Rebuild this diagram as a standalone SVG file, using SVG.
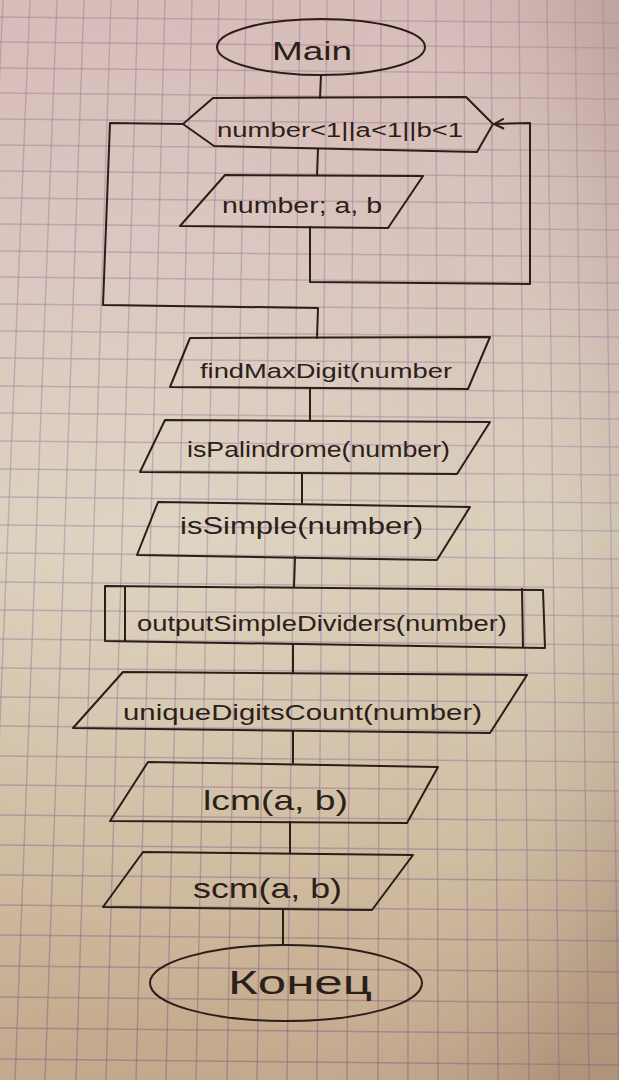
<svg xmlns="http://www.w3.org/2000/svg" width="619" height="1080" viewBox="0 0 619 1080">
  <defs>
    <linearGradient id="paper" x1="0" y1="0" x2="0" y2="1">
      <stop offset="0" stop-color="#d7bcb8"/>
      <stop offset="0.25" stop-color="#d9c4bc"/>
      <stop offset="0.5" stop-color="#dacfbb"/>
      <stop offset="0.8" stop-color="#cfbb9f"/>
      <stop offset="1" stop-color="#c2a78a"/>
    </linearGradient>
    <radialGradient id="shade" cx="0.25" cy="0.45" r="0.85">
      <stop offset="0" stop-color="#ffffff" stop-opacity="0.12"/>
      <stop offset="0.6" stop-color="#ffffff" stop-opacity="0"/>
      <stop offset="1" stop-color="#5a3a30" stop-opacity="0.18"/>
    </radialGradient>
    <linearGradient id="gridInk" gradientUnits="userSpaceOnUse" x1="0" y1="0" x2="0" y2="1080">
      <stop offset="0" stop-color="#a9889e"/>
      <stop offset="0.5" stop-color="#a891a8"/>
      <stop offset="1" stop-color="#8f6a80"/>
    </linearGradient>
    <marker id="arrowOpen" viewBox="0 0 12 12" refX="11" refY="6" markerWidth="12" markerHeight="12" markerUnits="userSpaceOnUse" orient="auto">
      <path d="M1,1 L11,6 L1,11" fill="none" stroke="#2a1f17" stroke-width="2"/>
    </marker>
  </defs>
  <style>
    .ink { fill: none; stroke: #2a1f17; stroke-width: 2; stroke-linejoin: round; stroke-linecap: round; }
    .label { font-family: "Liberation Sans", "DejaVu Sans", sans-serif; fill: #2b2018; text-anchor: start; }
    .grid line { stroke: url(#gridInk); stroke-width: 1.4; stroke-opacity: 0.6; }
  </style>

  <!-- squared paper -->
  <rect x="0" y="0" width="619" height="1080" fill="url(#paper)"/>
  <rect x="0" y="0" width="619" height="1080" fill="url(#shade)"/>
  <g class="grid">
    <!-- vertical rules, fanning slightly towards the bottom -->
    <line x1="3" y1="0" x2="-45" y2="1080"/>
    <line x1="30" y1="0" x2="-15" y2="1080"/>
    <line x1="57" y1="0" x2="15" y2="1080"/>
    <line x1="84" y1="0" x2="45" y2="1080"/>
    <line x1="111" y1="0" x2="76" y2="1080"/>
    <line x1="138" y1="0" x2="106" y2="1080"/>
    <line x1="165" y1="0" x2="136" y2="1080"/>
    <line x1="192" y1="0" x2="166" y2="1080"/>
    <line x1="219" y1="0" x2="196" y2="1080"/>
    <line x1="246" y1="0" x2="227" y2="1080"/>
    <line x1="273" y1="0" x2="257" y2="1080"/>
    <line x1="300" y1="0" x2="287" y2="1080"/>
    <line x1="327" y1="0" x2="317" y2="1080"/>
    <line x1="354" y1="0" x2="347" y2="1080"/>
    <line x1="381" y1="0" x2="378" y2="1080"/>
    <line x1="408" y1="0" x2="408" y2="1080"/>
    <line x1="436" y1="0" x2="438" y2="1080"/>
    <line x1="464" y1="0" x2="468" y2="1080"/>
    <line x1="491" y1="0" x2="498" y2="1080"/>
    <line x1="519" y1="0" x2="529" y2="1080"/>
    <line x1="547" y1="0" x2="559" y2="1080"/>
    <line x1="575" y1="0" x2="589" y2="1080"/>
    <line x1="603" y1="0" x2="619" y2="1080"/>
    <!-- horizontal rules -->
    <line x1="0" y1="17" x2="619" y2="23"/>
    <line x1="0" y1="42" x2="619" y2="48"/>
    <line x1="0" y1="68" x2="619" y2="74"/>
    <line x1="0" y1="93" x2="619" y2="99"/>
    <line x1="0" y1="119" x2="619" y2="125"/>
    <line x1="0" y1="145" x2="619" y2="151"/>
    <line x1="0" y1="171" x2="619" y2="177"/>
    <line x1="0" y1="198" x2="619" y2="204"/>
    <line x1="0" y1="224" x2="619" y2="230"/>
    <line x1="0" y1="251" x2="619" y2="257"/>
    <line x1="0" y1="277" x2="619" y2="283"/>
    <line x1="0" y1="304" x2="619" y2="310"/>
    <line x1="0" y1="331" x2="619" y2="337"/>
    <line x1="0" y1="358" x2="619" y2="364"/>
    <line x1="0" y1="386" x2="619" y2="392"/>
    <line x1="0" y1="413" x2="619" y2="419"/>
    <line x1="0" y1="441" x2="619" y2="447"/>
    <line x1="0" y1="469" x2="619" y2="475"/>
    <line x1="0" y1="497" x2="619" y2="503"/>
    <line x1="0" y1="525" x2="619" y2="531"/>
    <line x1="0" y1="553" x2="619" y2="559"/>
    <line x1="0" y1="582" x2="619" y2="588"/>
    <line x1="0" y1="610" x2="619" y2="616"/>
    <line x1="0" y1="639" x2="619" y2="645"/>
    <line x1="0" y1="668" x2="619" y2="674"/>
    <line x1="0" y1="697" x2="619" y2="703"/>
    <line x1="0" y1="726" x2="619" y2="732"/>
    <line x1="0" y1="756" x2="619" y2="762"/>
    <line x1="0" y1="785" x2="619" y2="791"/>
    <line x1="0" y1="815" x2="619" y2="821"/>
    <line x1="0" y1="845" x2="619" y2="851"/>
    <line x1="0" y1="875" x2="619" y2="881"/>
    <line x1="0" y1="905" x2="619" y2="911"/>
    <line x1="0" y1="935" x2="619" y2="941"/>
    <line x1="0" y1="966" x2="619" y2="972"/>
    <line x1="0" y1="997" x2="619" y2="1003"/>
    <line x1="0" y1="1028" x2="619" y2="1034"/>
    <line x1="0" y1="1059" x2="619" y2="1065"/>
  </g>

  <!-- connectors -->
  <g id="connectors" class="ink">
    <line x1="321" y1="75" x2="320" y2="98"/>
    <line x1="318" y1="149" x2="317" y2="175"/>
    <!-- loop: exit on the left back into the main flow -->
    <polyline points="183,124 110,123 103,305 318,308 317,338"/>
    <!-- loop: return from the input back to the condition -->
    <polyline points="310,227 310,282 530,284 530,123 494,124" marker-end="url(#arrowOpen)"/>
    <line x1="310" y1="388" x2="310" y2="421"/>
    <line x1="302" y1="473" x2="302" y2="503"/>
    <line x1="295" y1="557" x2="294" y2="587"/>
    <line x1="293" y1="644" x2="293" y2="673"/>
    <line x1="293" y1="731" x2="293" y2="763"/>
    <line x1="290" y1="822" x2="290" y2="853"/>
    <line x1="283" y1="909" x2="283" y2="945"/>
  </g>

  <g id="node-main">
    <ellipse class="ink" cx="321" cy="47" rx="104" ry="28"/>
    <text class="label" x="272" y="60" font-size="25" textLength="80" lengthAdjust="spacingAndGlyphs">Main</text>
  </g>

  <g id="node-loop">
    <polygon class="ink" points="183,124 213,98 466,97 493,124 477,152 214,146"/>
    <text class="label" x="217" y="137" font-size="20" textLength="246" lengthAdjust="spacingAndGlyphs">number&lt;1||a&lt;1||b&lt;1</text>
  </g>

  <g id="node-input">
    <polygon class="ink" points="225,175 423,176 388,228 180,226"/>
    <text class="label" x="222" y="213" font-size="22" textLength="160" lengthAdjust="spacingAndGlyphs">number; a, b</text>
  </g>

  <g id="node-findMaxDigit">
    <polygon class="ink" points="190,338 490,337 468,389 170,387"/>
    <text class="label" x="200" y="378" font-size="20" textLength="252" lengthAdjust="spacingAndGlyphs">findMaxDigit(number</text>
  </g>

  <g id="node-isPalindrome">
    <polygon class="ink" points="165,420 490,422 457,474 140,472"/>
    <text class="label" x="187" y="457" font-size="22" textLength="263" lengthAdjust="spacingAndGlyphs">isPalindrome(number)</text>
  </g>

  <g id="node-isSimple">
    <polygon class="ink" points="158,502 470,507 437,560 137,555"/>
    <text class="label" x="180" y="534" font-size="24" textLength="243" lengthAdjust="spacingAndGlyphs">isSimple(number)</text>
  </g>

  <g id="node-outputSimpleDividers">
    <polygon class="ink" points="105,586 543,590 545,648 105,641"/>
    <line class="ink" x1="125" y1="587" x2="125" y2="641"/>
    <line class="ink" x1="522" y1="589" x2="523" y2="647"/>
    <text class="label" x="137" y="631" font-size="22" textLength="370" lengthAdjust="spacingAndGlyphs">outputSimpleDividers(number)</text>
  </g>

  <g id="node-uniqueDigitsCount">
    <polygon class="ink" points="123,672 527,675 490,733 73,728"/>
    <text class="label" x="123" y="720" font-size="22" textLength="359" lengthAdjust="spacingAndGlyphs">uniqueDigitsCount(number)</text>
  </g>

  <g id="node-lcm">
    <polygon class="ink" points="148,762 438,767 407,823 110,821"/>
    <text class="label" x="203" y="810" font-size="28" textLength="145" lengthAdjust="spacingAndGlyphs">lcm(a, b)</text>
  </g>

  <g id="node-scm">
    <polygon class="ink" points="143,852 413,855 372,910 103,907"/>
    <text class="label" x="193" y="898" font-size="28" textLength="149" lengthAdjust="spacingAndGlyphs">scm(a, b)</text>
  </g>

  <g id="node-end">
    <ellipse class="ink" cx="286" cy="983" rx="136" ry="38"/>
    <text class="label" x="228" y="994" font-size="34" textLength="144" lengthAdjust="spacingAndGlyphs">Конец</text>
  </g>
</svg>
